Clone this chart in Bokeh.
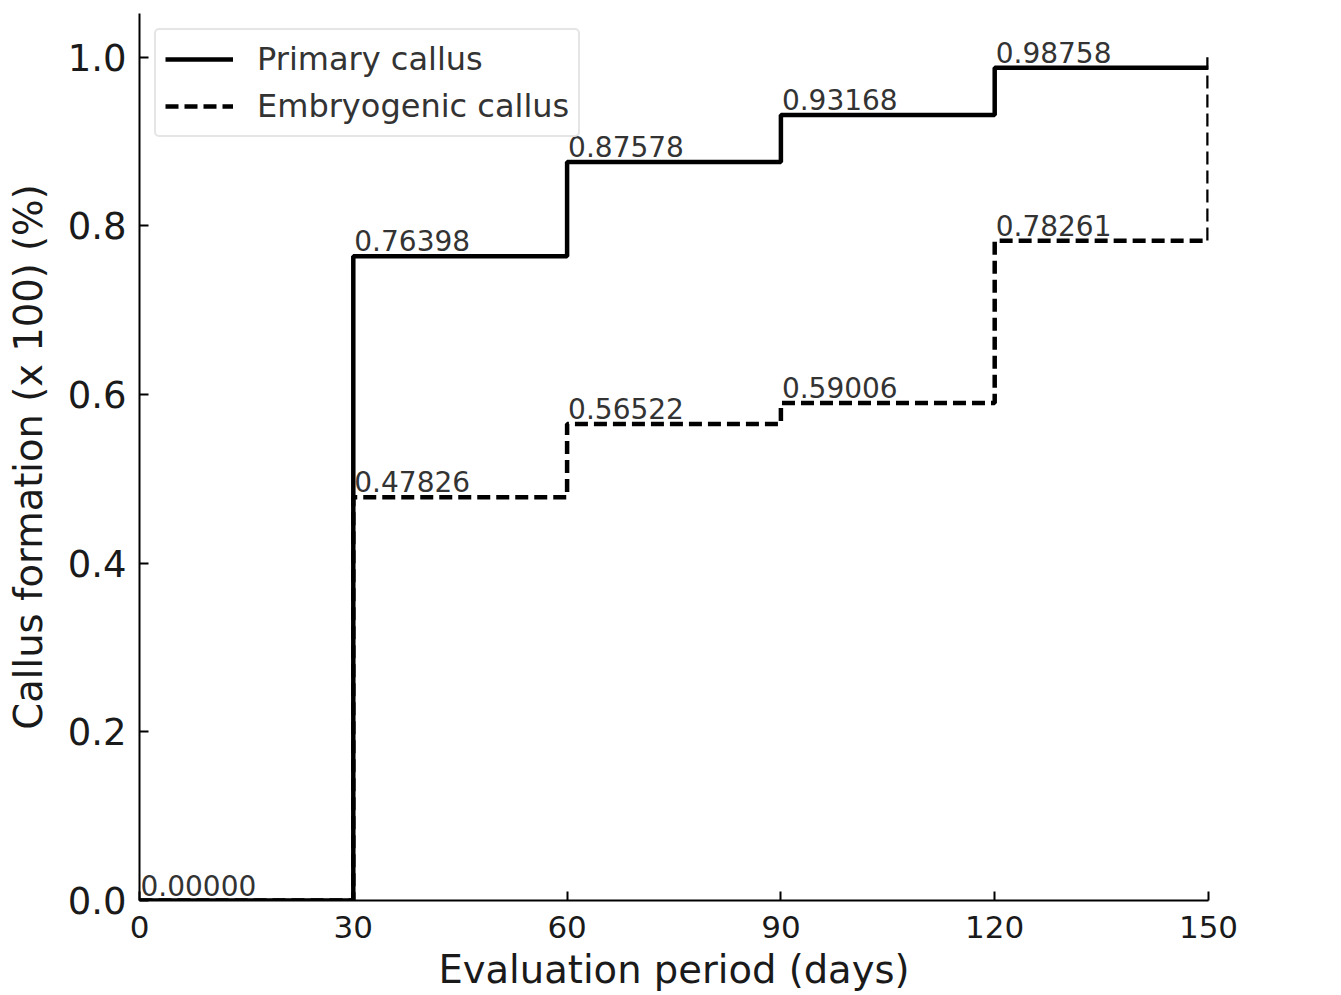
from bokeh.plotting import figure
from bokeh.models import (ColumnDataSource, Range1d, FixedTicker, NumeralTickFormatter,
                          Legend, LegendItem)
from bokeh.core.properties import value
from bokeh.embed import file_html
from bokeh.resources import INLINE

# ---- data ----
days = [0, 30, 60, 90, 120, 150]
primary = [0.0, 0.76398, 0.87578, 0.93168, 0.98758, 0.98758]
embryogenic = [0.0, 0.47826, 0.56522, 0.59006, 0.78261, 1.00000]
x_ticks = [0, 30, 60, 90, 120, 150]
y_ticks = [0.0, 0.2, 0.4, 0.6, 0.8, 1.0]

FONT = "DejaVu Sans"

p = figure(width=1341, height=995, output_backend="svg", toolbar_location=None,
           x_range=Range1d(0, 150), y_range=Range1d(0, 1.052),
           min_border_left=139, min_border_right=133, min_border_top=13,
           min_border_bottom=95)
p.background_fill_color = "white"
p.border_fill_color = "white"
p.outline_line_color = None
p.xgrid.visible = False
p.ygrid.visible = False

r1 = p.step(days, primary, mode="after", line_color="black", line_width=4.5)
r2 = p.step(days, embryogenic, mode="after", line_color="black", line_width=4.5,
            line_dash="13 6")

# value labels where the series changes
lx, ly, lt = [], [], []
seen = set()
for series in (primary, embryogenic):
    for i, (d, v) in enumerate(zip(days, series)):
        if i == 0 or v != series[i - 1]:
            key = (d, round(v, 5))
            if key in seen:
                continue
            seen.add(key)
            lx.append(d)
            ly.append(v)
            lt.append(f"{v:.5f}")
src = ColumnDataSource(dict(x=lx, y=ly, t=lt))
p.text(x="x", y="y", text="t", source=src, text_font=value(FONT),
       text_font_size="28px", text_color="#333333", text_align="left",
       text_baseline="bottom", x_offset=1, y_offset=-5)

# axes
for ax in (p.xaxis[0], p.yaxis[0]):
    ax.axis_line_width = 2
    ax.axis_line_color = "black"
    ax.major_tick_line_width = 2
    ax.major_tick_line_color = "black"
    ax.major_tick_in = 9
    ax.major_tick_out = 0
    ax.minor_tick_line_color = None
    ax.major_label_text_font = FONT
    ax.axis_label_text_font = FONT
    ax.major_label_text_color = "#1a1a1a"
    ax.axis_label_text_color = "#1a1a1a"
    ax.axis_label_text_font_style = "normal"
    ax.axis_label_text_font_size = "38.5px"

p.xaxis.ticker = FixedTicker(ticks=x_ticks)
p.yaxis.ticker = FixedTicker(ticks=y_ticks)
p.yaxis.formatter = NumeralTickFormatter(format="0.0")
p.xaxis.major_label_text_font_size = "31px"
p.yaxis.major_label_text_font_size = "37px"
p.xaxis.major_label_standoff = 15
p.yaxis.major_label_standoff = 13
p.xaxis.axis_label = "Evaluation period (days)"
p.yaxis.axis_label = "Callus formation (x 100) (%)"
p.xaxis.axis_label_standoff = 6
p.yaxis.axis_label_standoff = 14

legend = Legend(items=[LegendItem(label="Primary callus", renderers=[r1]),
                       LegendItem(label="Embryogenic callus", renderers=[r2])],
                location="top_left", margin=15, padding=9, spacing=7,
                glyph_width=68, glyph_height=40, label_height=40,
                label_standoff=24, label_text_font=FONT,
                label_text_font_size="32px", label_text_color="#333333",
                border_line_color="#cccccc", border_line_width=2,
                border_radius=5, background_fill_color="white",
                background_fill_alpha=0.8)
p.add_layout(legend)

open("out.html", "w").write(file_html(p, INLINE))
